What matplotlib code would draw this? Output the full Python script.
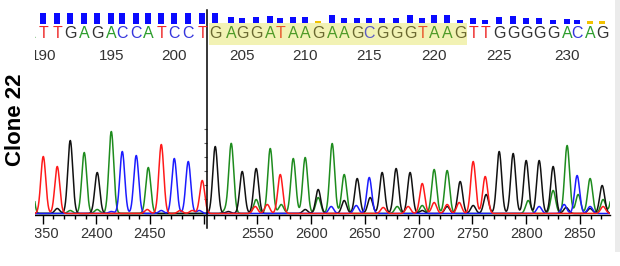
import numpy as np
import matplotlib
matplotlib.use('Agg')
import matplotlib.pyplot as plt
from matplotlib.patches import Rectangle

plt.rcParams['font.family'] = ['Liberation Sans', 'DejaVu Sans']

# base calls 189..233 (189 is cut off at the left edge)
first_base = 189
bases = list('ATTGAGACCATCCT' 'GAGGATAAGAAGCGGGTAAG' 'TTGGGGGACAG')
peak_pos = [2339, 2350.7, 2363.7, 2375.8, 2388.8, 2400.9, 2414, 2424.2, 2437.2, 2448.4,
            2460.5, 2472.6, 2485.6, 2498.6, 2510.7, 2525.6, 2535.8, 2548.8, 2561.9, 2571.2,
            2583.3, 2594.4, 2606.5, 2619.5, 2630.7, 2642.8, 2654, 2666, 2679, 2692,
            2703.3, 2714.4, 2726.5, 2738.6, 2750.7, 2761.9, 2774.9, 2787.9, 2800, 2812.1,
            2825.1, 2838.1, 2847.4, 2859.5, 2870.7]
peak_h = [48, 57, 47, 73, 61, 41, 82, 62, 58, 46,
          69, 55, 52, 33, 67, 70, 42, 45, 65, 39,
          55, 56, 24, 70, 39, 35, 36, 41, 45, 41,
          30, 44, 43, 32, 52, 37, 62, 60, 53, 53,
          47, 68, 38, 35, 28]
qual = [58] * 15 + [40, 31, 40, 45, 31, 40, 40, 18, 49, 31,
                    31, 31, 31, 34, 49, 31, 49, 49, 22, 31,
                    22, 36, 44, 31, 31, 22, 26, 22, 16, 16]

# smaller secondary peaks under the main calls
sec_base = ['G', 'A', 'A', 'C', 'T', 'C', 'T', 'T', 'C', 'A', 'G',
            'A', 'T', 'T', 'A', 'G', 'A', 'C', 'G', 'C', 'G', 'T', 'A', 'T',
            'A', 'G', 'T', 'T', 'G', 'T', 'G', 'G', 'A', 'C', 'A', 'C', 'G',
            'A', 'C', 'G', 'A', 'T', 'A']
sec_pos = [2363.7, 2375.8, 2400.9, 2414, 2447.4, 2460.5, 2478.1, 2489.3, 2495.8, 2520, 2522.8,
           2548.8, 2547.9, 2559.1, 2572.1, 2594.4, 2606.5, 2618.6, 2630.7, 2641.9, 2654.9, 2667, 2680, 2690.2,
           2703.3, 2703.3, 2714.4, 2726.5, 2726.5, 2737.7, 2750.7, 2762.8, 2801.9, 2812.1, 2825.1, 2835.3, 2837.2,
           2848.4, 2859.5, 2859.5, 2871.6, 2871.6, 2881]
sec_h = [5, 3, 4, 2, 4, 3, 3, 3, 3, 3, 2,
         14, 7, 9, 9, 4, 16, 7, 13, 8, 16, 6, 7, 7,
         8, 3, 11, 9, 7, 11, 8, 19, 13, 7, 23, 9, 6,
         19, 7, 5, 14, 7, 25]

split = 2503      # start of the grey (edited) region
xmin, xmax = 2343, 2878
major_ticks = [2350, 2400, 2450, 2500, 2550, 2600, 2650, 2700, 2750, 2800, 2850]
tick_labels = ['2350', '2400', '2450', '', '2550', '2600', '2650', '2700', '2750', '2800', '2850']

trace_col = {'A': '#1e8c1e', 'C': '#1c1cff', 'G': '#111111', 'T': '#ff1a1a'}
base_col = {'A': '#2e9e2e', 'C': '#3535dd', 'G': '#333333', 'T': '#ee2a2a'}
hl_col = {'A': '#4f9a28', 'C': '#5c5cc4', 'G': '#6a6830', 'T': '#e8562c'}

W, H = 620, 266
fig = plt.figure(figsize=(W / 100, H / 100), dpi=100)

ax = fig.add_axes([35 / W, 51 / H, 575 / W, 95 / H])
axq = fig.add_axes([35 / W, 242 / H, 575 / W, 11 / H], sharex=ax)
axs = fig.add_axes([35 / W, 202 / H, 575 / W, 41 / H], sharex=ax)
for a in (ax, axq, axs):
    a.set_facecolor('none')

# grey background of the right part
x0 = fig.transFigure.inverted().transform(ax.transData.transform((split, 0)))[0]
fig.add_artist(Rectangle((x0, 14 / H), 615 / W - x0, 1 - 14 / H, transform=fig.transFigure,
                         facecolor='#ebebeb', edgecolor='none', zorder=-1))

# chromatogram
xs = np.linspace(2325, 2895, 3000)
sigma = 2.3
for b in 'AGCT':
    y = np.zeros_like(xs)
    for p, h, c in zip(peak_pos, peak_h, bases):
        if c == b:
            y += h * np.exp(-0.5 * ((xs - p) / sigma) ** 2)
    for p, h, c in zip(sec_pos, sec_h, sec_base):
        if c == b:
            y += h * np.exp(-0.5 * ((xs - p) / sigma) ** 2)
    ax.plot(xs, y, color=trace_col[b], lw=1.1)

ax.set_xlim(xmin, xmax)
ax.set_ylim(-1.5, 93.5)
for s in ['top', 'right', 'left']:
    ax.spines[s].set_visible(False)
ax.spines['bottom'].set_linewidth(1.0)
ax.set_yticks([])
ax.set_xticks(major_ticks)
ax.set_xticklabels(tick_labels)
ax.set_xticks(np.arange(2350, 2880, 10), minor=True)
ax.tick_params(axis='x', which='major', length=6.5, width=1.0, pad=2.5,
               labelsize=10.5, labelcolor='#333333')
ax.tick_params(axis='x', which='minor', length=3.2, width=1.0)

# divider line with its small ticks
ax.axvline(split, ymin=-13 / 95, ymax=205 / 95, clip_on=False, color='k', lw=1.1)
sec = ax.secondary_yaxis((split - xmin) / (xmax - xmin))
sec.spines['left'].set_visible(False)
sec.set_yticks([15, 29, 43, 57, 71, 85])
sec.tick_params(axis='y', direction='out', length=2.2, width=0.8, color='#666666', labelleft=False)

# quality bars
qcol = ['#f2c200' if q < 20 else '#0a0aff' for q in qual]
axq.bar(peak_pos, qual, width=5.6, color=qcol)
axq.set_ylim(0, 60)
axq.axis('off')

# base letters and positions, edited stretch highlighted
hl_l = (peak_pos[13] + peak_pos[14]) / 2
hl_r = (peak_pos[33] + peak_pos[34]) / 2
axs.axvspan(hl_l, hl_r, ymin=0.463, ymax=1.0, color='#f2f2b4', lw=0, zorder=0)
for i, (p, c) in enumerate(zip(peak_pos, bases)):
    col = hl_col[c] if hl_l < p < hl_r else base_col[c]
    axs.text(p, 0.745, c, color=col, fontsize=11.5, ha='center', va='center',
             transform=axs.get_xaxis_transform(), zorder=2)
    num = first_base + i
    if num % 5 == 0:
        axs.text(p, 0.2, str(num), color='#333333', fontsize=11, ha='center', va='center',
                 transform=axs.get_xaxis_transform())
axs.set_ylim(0, 1)
axs.axis('off')

# white strip on the left hides clipped labels
fig.add_artist(Rectangle((0, 0), 35 / W, 1, transform=fig.transFigure,
                         facecolor='white', edgecolor='none', zorder=5))
fig.text(16 / W, 1 - 120 / H, 'Clone 22', rotation=90, fontsize=16, fontweight='bold',
         ha='center', va='center', zorder=6)

fig.savefig('out.png', dpi=100)
